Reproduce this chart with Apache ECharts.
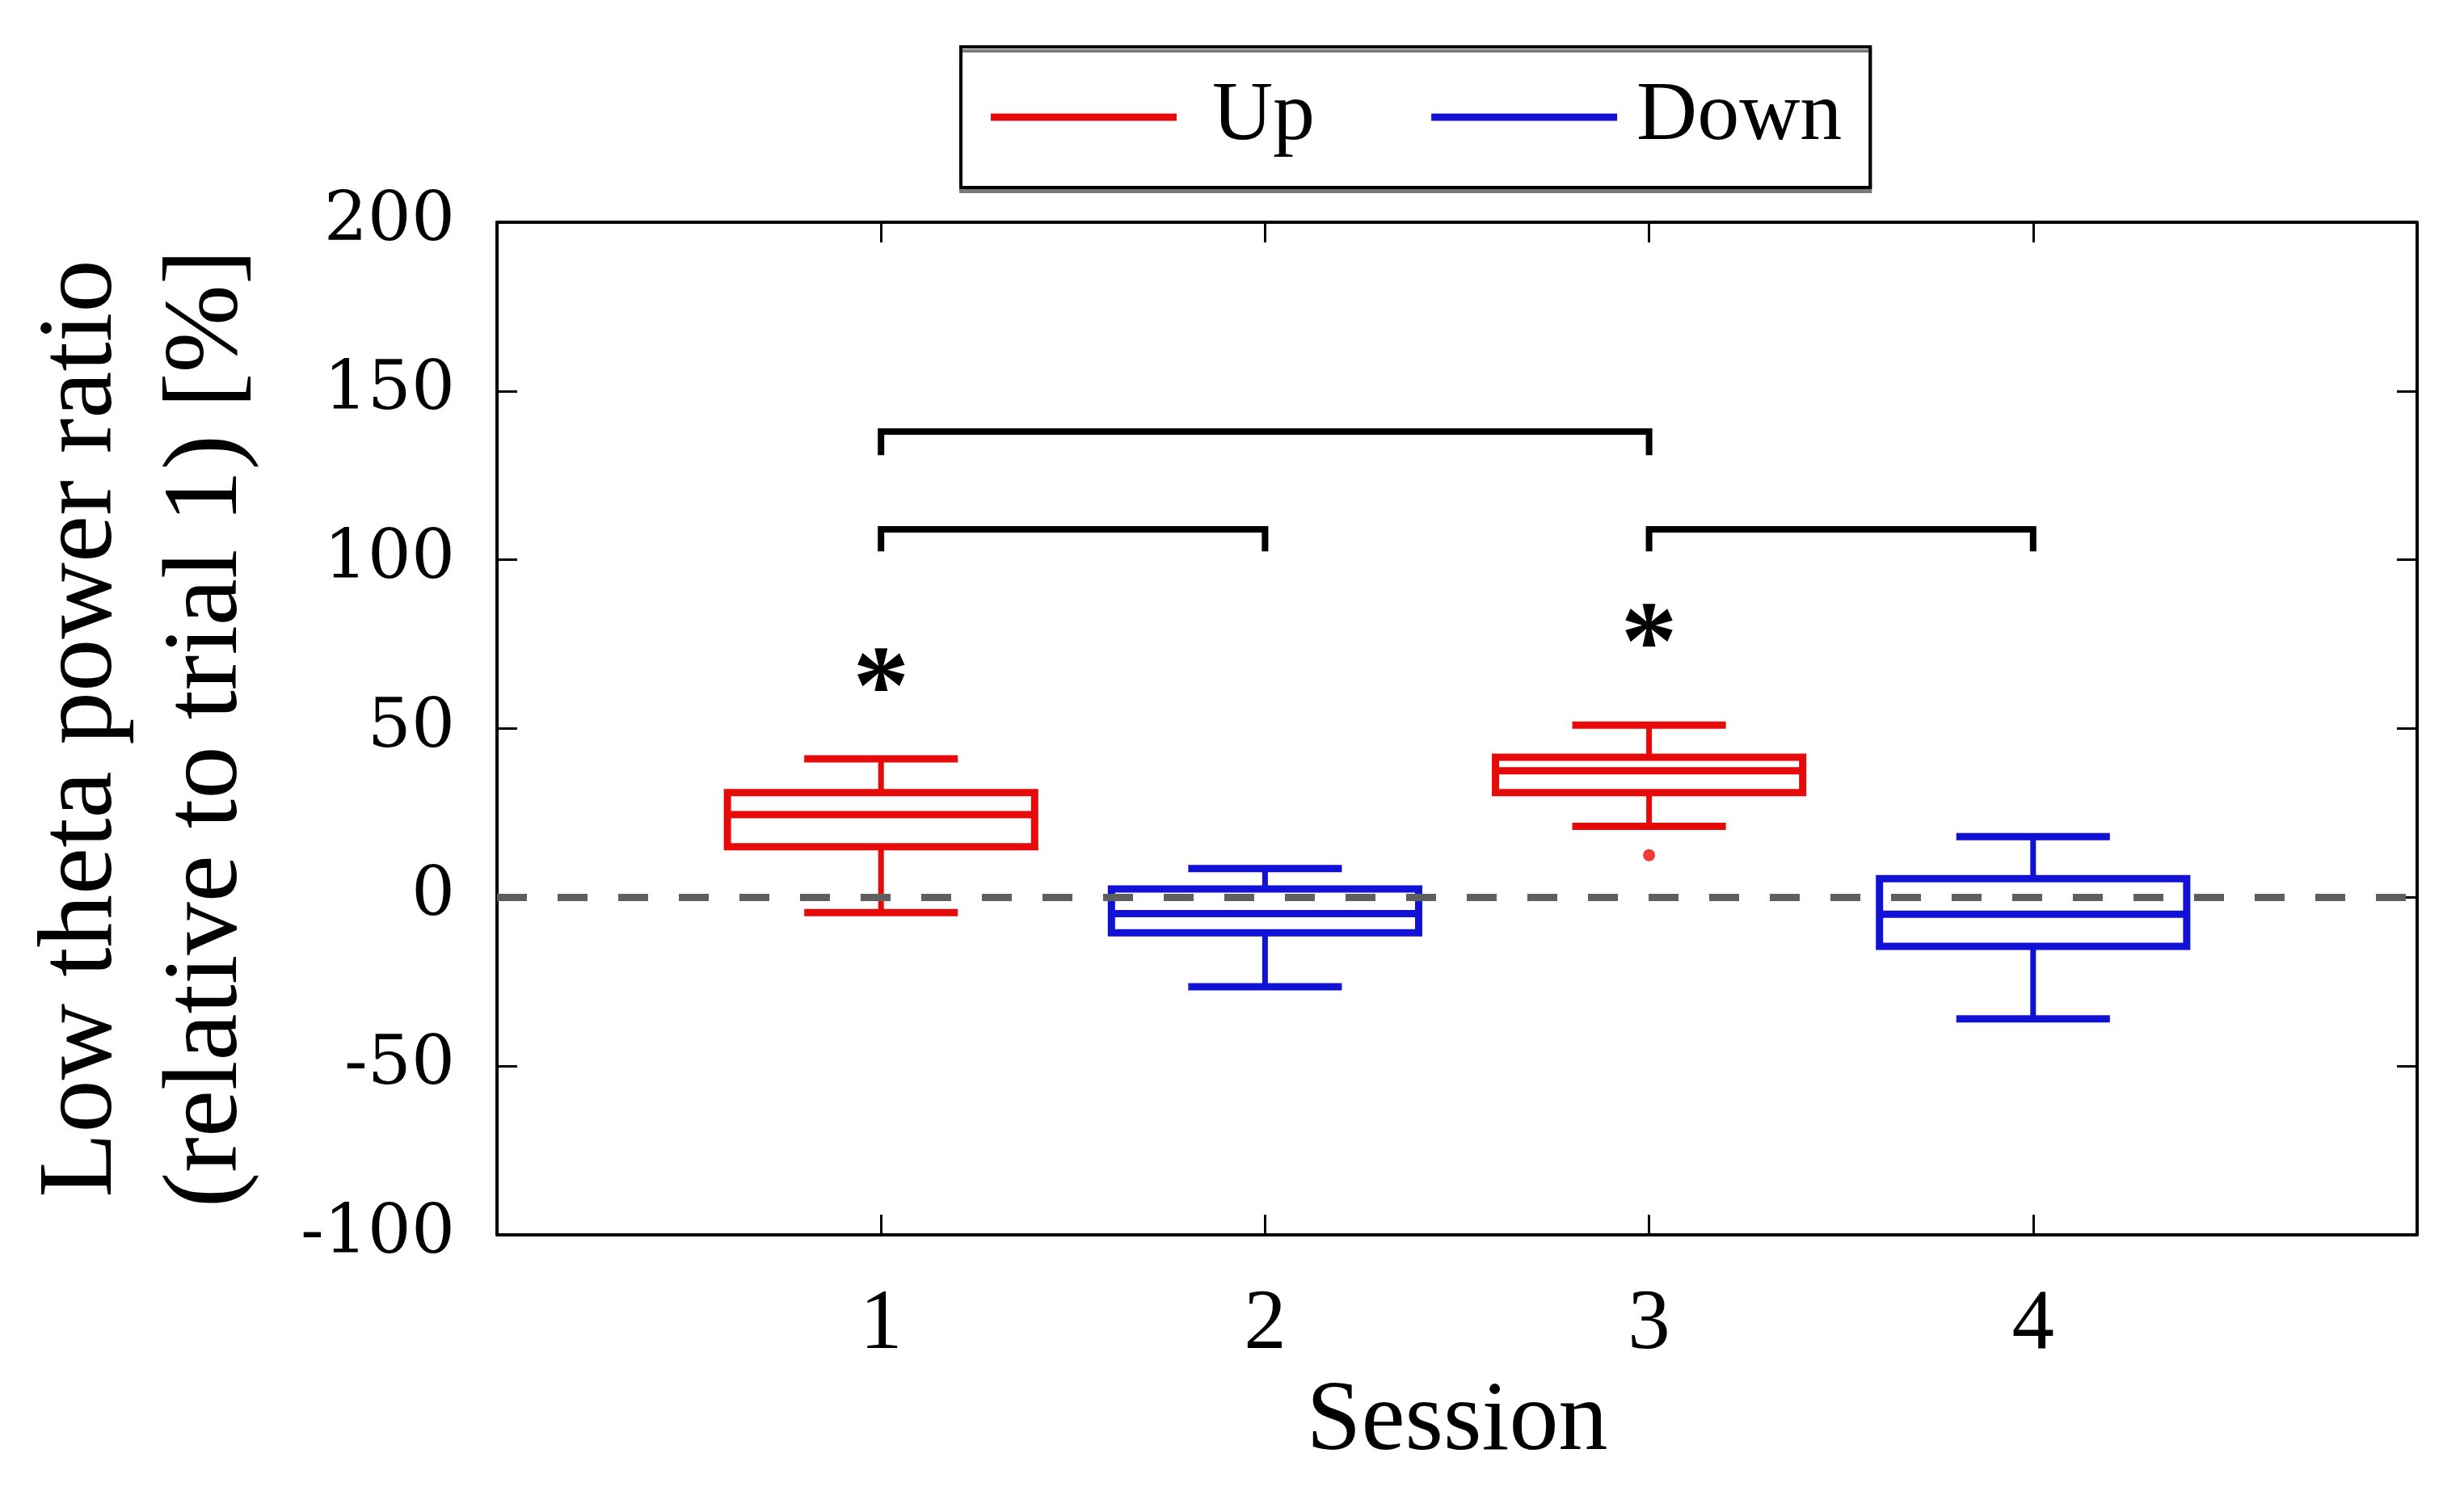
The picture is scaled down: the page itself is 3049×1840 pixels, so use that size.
<!DOCTYPE html>
<html><head><meta charset="utf-8">
<script src="https://cdn.jsdelivr.net/npm/echarts/dist/echarts.min.js"></script>
<style>html,body{margin:0;padding:0;background:#fff}#chart{width:3049px;height:1840px}</style>
</head><body><div id="chart"></div>
<script>
// ---- data ----
const sessionTicks = [1, 2, 3, 4];
const sessionLabels = ['1', '2', '3', '4'];
const yTickValues = [-100, -50, 0, 50, 100, 150, 200];

const upSessions = [1, 3];
const upLow = [-4.5, 21];
const upQ1 = [15, 31];
const upMedian = [24.5, 37.5];
const upQ3 = [31, 41.5];
const upHigh = [41, 51];

const downSessions = [2, 4];
const downLow = [-26.5, -36];
const downQ1 = [-10.5, -14.5];
const downMedian = [-4.8, -5];
const downQ3 = [2.5, 5.5];
const downHigh = [8.5, 18];

const upOutlierSession = [3];
const upOutlierValue = [12.5];

const bracketFrom = [1, 1, 3];
const bracketTo = [3, 2, 4];
const bracketTop = [138, 109, 109];
const bracketLeg = [131, 102.5, 102.5];

const starSession = [1, 3];
const starValue = [65, 78];

const zeroLevel = [0];

const seriesNames = ['Up', 'Down'];
const yTitle = ['Low theta power ratio', '(relative to trial 1) [%]'];
const xTitle = 'Session';

// ---- styles ----
const RED = '#e60a0a';
const BLUE = '#1212d6';
const SERIF = 'Liberation Serif';
const BOX_W = 0.8, CAP_W = 0.4;

function boxRenderer(color) {
  return function (params, api) {
    const x = api.value(0);
    const lo = api.coord([x, api.value(1)]);
    const q1 = api.coord([x, api.value(2)]);
    const md = api.coord([x, api.value(3)]);
    const q3 = api.coord([x, api.value(4)]);
    const hi = api.coord([x, api.value(5)]);
    const bw = api.size([BOX_W, 0])[0];
    const cw = api.size([CAP_W, 0])[0];
    const cx = lo[0];
    const ln = (x1, y1, x2, y2, w) => ({ type: 'line', shape: { x1, y1, x2, y2 }, style: { stroke: color, lineWidth: w } });
    return {
      type: 'group', children: [
        ln(cx, q3[1], cx, hi[1], 7),
        ln(cx, q1[1], cx, lo[1], 7),
        ln(cx - cw / 2, hi[1], cx + cw / 2, hi[1], 9),
        ln(cx - cw / 2, lo[1], cx + cw / 2, lo[1], 9),
        { type: 'rect', shape: { x: cx - bw / 2, y: q3[1], width: bw, height: q1[1] - q3[1] }, style: { fill: 'none', stroke: color, lineWidth: 9 } },
        ln(cx - bw / 2, md[1], cx + bw / 2, md[1], 9)
      ]
    };
  };
}

function bracketRenderer(params, api) {
  const a = api.coord([api.value(0), api.value(3)]);
  const b = api.coord([api.value(0), api.value(2)]);
  const c = api.coord([api.value(1), api.value(2)]);
  const d = api.coord([api.value(1), api.value(3)]);
  return { type: 'polyline', shape: { points: [a, b, c, d] }, style: { fill: 'none', stroke: '#000', lineWidth: 8, lineJoin: 'miter' } };
}

const STAR_SIZE = 140;
function starRenderer(params, api) {
  const p = api.coord([api.value(0), api.value(1)]);
  return { type: 'text', x: p[0], y: p[1] + STAR_SIZE * 0.14, style: { text: '*', fontSize: STAR_SIZE, fontFamily: SERIF, fontWeight: 'bold', fill: '#000', align: 'center', verticalAlign: 'middle' } };
}

const upData = upSessions.map((s, i) => [s, upLow[i], upQ1[i], upMedian[i], upQ3[i], upHigh[i]]);
const downData = downSessions.map((s, i) => [s, downLow[i], downQ1[i], downMedian[i], downQ3[i], downHigh[i]]);
const bracketData = bracketFrom.map((f, i) => [f, bracketTo[i], bracketTop[i], bracketLeg[i]]);
const starData = starSession.map((s, i) => [s, starValue[i]]);
const outlierData = upOutlierSession.map((s, i) => [s, upOutlierValue[i]]);

const axisLineStyle = { show: true, onZero: false, lineStyle: { color: '#000', width: 4 } };
const tickStyle = { show: true, inside: true, length: 25, lineStyle: { color: '#000', width: 3 } };

const chart = echarts.init(document.getElementById('chart'), null, { renderer: 'canvas' });
chart.setOption({
  animation: false,
  backgroundColor: '#fff',
  grid: { left: 615, right: 58, top: 275, bottom: 312, containLabel: false, outerBoundsMode: 'none' },
  legend: {
    data: [
      { name: seriesNames[0], icon: 'rect', itemStyle: { color: RED }, textStyle: { padding: [0, 0, 0, 39] } },
      { name: seriesNames[1], icon: 'rect', itemStyle: { color: BLUE }, textStyle: { padding: [0, 0, 0, 19] } }
    ],
    left: 1189, top: 58,
    orient: 'horizontal',
    itemWidth: 230, itemHeight: 9, itemGap: 144,
    padding: [32, 35, 32, 37],
    borderColor: '#000', borderWidth: 4, borderRadius: 0,
    backgroundColor: '#fff',
    shadowColor: '#7a7a7a', shadowOffsetY: 5, shadowOffsetX: 0, shadowBlur: 0,
    selectedMode: false,
    textStyle: { fontFamily: SERIF, fontSize: 104, lineHeight: 110, color: '#000' }
  },
  xAxis: [
    {
      type: 'value', min: 0, max: 5, interval: 1, position: 'bottom',
      axisLine: axisLineStyle, axisTick: tickStyle, splitLine: { show: false },
      axisLabel: {
        margin: 60, color: '#000', fontFamily: SERIF, fontSize: 105,
        formatter: v => { const i = sessionTicks.indexOf(v); return i >= 0 ? sessionLabels[i] : ''; }
      },
      name: xTitle, nameLocation: 'middle', nameGap: 172,
      nameTextStyle: { fontFamily: SERIF, fontSize: 122, color: '#000' }
    },
    {
      type: 'value', min: 0, max: 5, interval: 1, position: 'top',
      axisLine: axisLineStyle, axisTick: tickStyle, splitLine: { show: false }, axisLabel: { show: false }
    }
  ],
  yAxis: [
    {
      type: 'value', min: yTickValues[0], max: yTickValues[yTickValues.length - 1], interval: 50, position: 'left',
      axisLine: axisLineStyle, axisTick: tickStyle, splitLine: { show: false },
      axisLabel: { margin: 52, color: '#000', fontFamily: 'DejaVu Serif', fontSize: 85 },
      name: yTitle.join('\n'), nameLocation: 'middle', nameRotate: 90, nameGap: 280,
      nameTextStyle: { fontFamily: SERIF, fontSize: 131, lineHeight: 155, color: '#000', align: 'center' }
    },
    {
      type: 'value', min: yTickValues[0], max: yTickValues[yTickValues.length - 1], interval: 50, position: 'right',
      axisLine: axisLineStyle, axisTick: tickStyle, splitLine: { show: false }, axisLabel: { show: false }
    }
  ],
  series: [
    {
      name: 'zero', type: 'line', data: [], z: 1, silent: true,
      markLine: {
        silent: true, symbol: 'none', label: { show: false },
        lineStyle: { type: [37, 38], color: '#5f5f5f', width: 9 },
        data: zeroLevel.map(v => ({ yAxis: v }))
      }
    },
    {
      name: seriesNames[0], type: 'custom', z: 3, itemStyle: { color: RED },
      renderItem: boxRenderer(RED), encode: { x: 0, y: [1, 2, 3, 4, 5] }, data: upData
    },
    {
      name: seriesNames[1], type: 'custom', z: 3, itemStyle: { color: BLUE },
      renderItem: boxRenderer(BLUE), encode: { x: 0, y: [1, 2, 3, 4, 5] }, data: downData
    },
    {
      name: 'outlier', type: 'scatter', z: 4, symbol: 'circle', symbolSize: 15,
      itemStyle: { color: RED }, data: outlierData
    },
    {
      name: 'brackets', type: 'custom', z: 4, renderItem: bracketRenderer,
      encode: { x: [0, 1], y: [2, 3] }, data: bracketData
    },
    {
      name: 'stars', type: 'custom', z: 4, renderItem: starRenderer,
      encode: { x: 0, y: 1 }, data: starData
    }
  ]
});
</script></body></html>
